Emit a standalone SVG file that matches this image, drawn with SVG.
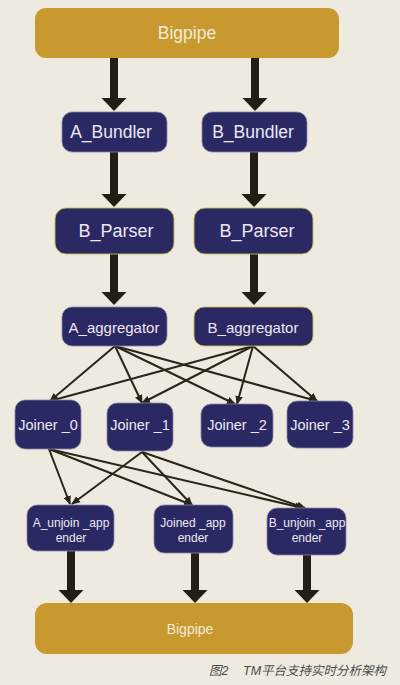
<svg xmlns="http://www.w3.org/2000/svg" width="400" height="685" viewBox="0 0 400 685">
<defs>
<style>
.bg{fill:#EEEAE0}
.pipe{fill:#C8992F}
.node{fill:#2B2963;stroke:#8A86A8;stroke-width:0.8}
.nodey{fill:#2B2963;stroke:#C9BE55;stroke-width:0.9}
.t{font-family:"Liberation Sans",Arial,sans-serif;fill:#ECE8F2;text-anchor:middle;dominant-baseline:central}
.tp{font-family:"Liberation Sans",Arial,sans-serif;fill:#F2EAD6;text-anchor:middle;dominant-baseline:central}
.thick{stroke:#221E16;stroke-width:8;fill:none;marker-end:url(#bigHead)}
.thin{stroke:#2A2519;stroke-width:2;fill:none;marker-end:url(#smallHead)}
.cap{font-family:"Liberation Sans","Noto Sans CJK SC",sans-serif;font-style:italic;fill:#4A4A4A;font-size:12.5px}
</style>
<marker id="bigHead" markerUnits="userSpaceOnUse" viewBox="0 -13 13 26" markerWidth="13" markerHeight="26" refX="0" refY="0" orient="auto">
<path d="M0,-12.5 L13,0 L0,12.5 z" fill="#221E16"/>
</marker>
<marker id="smallHead" markerUnits="userSpaceOnUse" viewBox="0 -4 9 8" markerWidth="9" markerHeight="8" refX="8" refY="0" orient="auto">
<path d="M0,-3.8 L9,0 L0,3.8 z" fill="#2A2519"/>
</marker>
</defs>
<rect class="bg" x="0" y="0" width="400" height="685"/>

<g id="connectors">
<line class="thick" x1="114" y1="58" x2="114" y2="98"/>
<line class="thick" x1="255" y1="58" x2="255" y2="98"/>
<line class="thick" x1="114" y1="152" x2="114" y2="194"/>
<line class="thick" x1="254" y1="152" x2="254" y2="194"/>
<line class="thick" x1="114" y1="254" x2="114" y2="292"/>
<line class="thick" x1="254" y1="254" x2="254" y2="292"/>
<line class="thin" x1="115" y1="346" x2="50" y2="401"/>
<line class="thin" x1="115" y1="346" x2="142" y2="403"/>
<line class="thin" x1="115" y1="346" x2="235" y2="404"/>
<line class="thin" x1="115" y1="346" x2="317" y2="401"/>
<line class="thin" x1="253" y1="346" x2="50" y2="401"/>
<line class="thin" x1="253" y1="346" x2="142" y2="403"/>
<line class="thin" x1="253" y1="346" x2="237" y2="404"/>
<line class="thin" x1="253" y1="346" x2="317" y2="401"/>
<line class="thin" x1="49" y1="449" x2="70" y2="504"/>
<line class="thin" x1="49" y1="449" x2="192" y2="505"/>
<line class="thin" x1="49" y1="449" x2="303" y2="508"/>
<line class="thin" x1="142" y1="452" x2="72" y2="504"/>
<line class="thin" x1="142" y1="452" x2="192" y2="505"/>
<line class="thin" x1="142" y1="452" x2="305" y2="508"/>
<line class="thick" x1="71" y1="551" x2="71" y2="590"/>
<line class="thick" x1="195" y1="553" x2="195" y2="590"/>
<line class="thick" x1="307" y1="555" x2="307" y2="590"/>
</g>

<g id="bigpipe_top">
<rect class="pipe" x="35" y="8" width="304" height="50" rx="11"/>
<text class="tp" x="187" y="33" font-size="17.5">Bigpipe</text>
</g>
<g id="a_bundler">
<rect class="node" x="62" y="112" width="105" height="40" rx="10"/>
<text class="t" x="111" y="132" font-size="17.5">A_Bundler</text>
</g>
<g id="b_bundler">
<rect class="node" x="202" y="112" width="105" height="40" rx="10"/>
<text class="t" x="253" y="132" font-size="17.5">B_Bundler</text>
</g>
<g id="b_parser_left">
<rect class="nodey" x="55" y="208" width="119" height="46" rx="11"/>
<text class="t" x="116" y="231" font-size="18">B_Parser</text>
</g>
<g id="b_parser_right">
<rect class="nodey" x="194" y="208" width="119" height="46" rx="11"/>
<text class="t" x="257" y="231" font-size="18">B_Parser</text>
</g>
<g id="a_aggregator">
<rect class="node" x="62" y="307" width="105" height="39" rx="10"/>
<text class="t" x="114" y="327" font-size="15">A_aggregator</text>
</g>
<g id="b_aggregator">
<rect class="nodey" x="194" y="307" width="119" height="39" rx="10"/>
<text class="t" x="253" y="327" font-size="15">B_aggregator</text>
</g>
<g id="joiner_0">
<rect class="node" x="15" y="400" width="66" height="49" rx="10"/>
<text class="t" x="48" y="425" font-size="14.5">Joiner _0</text>
</g>
<g id="joiner_1">
<rect class="node" x="107" y="403" width="66" height="48" rx="10"/>
<text class="t" x="140" y="425" font-size="14.5">Joiner _1</text>
</g>
<g id="joiner_2">
<rect class="node" x="201" y="404" width="72" height="43" rx="10"/>
<text class="t" x="237" y="425" font-size="14.5">Joiner _2</text>
</g>
<g id="joiner_3">
<rect class="node" x="287" y="401" width="66" height="47" rx="10"/>
<text class="t" x="320" y="425" font-size="14.5">Joiner _3</text>
</g>
<g id="a_unjoin_appender">
<rect class="node" x="27" y="505" width="87" height="46" rx="10"/>
<text class="t" x="71" y="523" font-size="12">A_unjoin _app</text>
<text class="t" x="71" y="538" font-size="12">ender</text>
</g>
<g id="joined_appender">
<rect class="node" x="154" y="505" width="79" height="48" rx="10"/>
<text class="t" x="193" y="523" font-size="12">Joined _app</text>
<text class="t" x="193" y="538" font-size="12">ender</text>
</g>
<g id="b_unjoin_appender">
<rect class="node" x="267" y="508" width="79" height="47" rx="10"/>
<text class="t" x="307" y="523" font-size="12">B_unjoin _app</text>
<text class="t" x="307" y="538" font-size="12">ender</text>
</g>
<g id="bigpipe_bottom">
<rect class="pipe" x="35" y="603" width="318" height="51" rx="12"/>
<text class="tp" x="190" y="629" font-size="14">Bigpipe</text>
</g>

<text class="cap" x="209" y="675">图2</text>
<text class="cap" x="243" y="675">TM平台支持实时分析架构</text>
</svg>
